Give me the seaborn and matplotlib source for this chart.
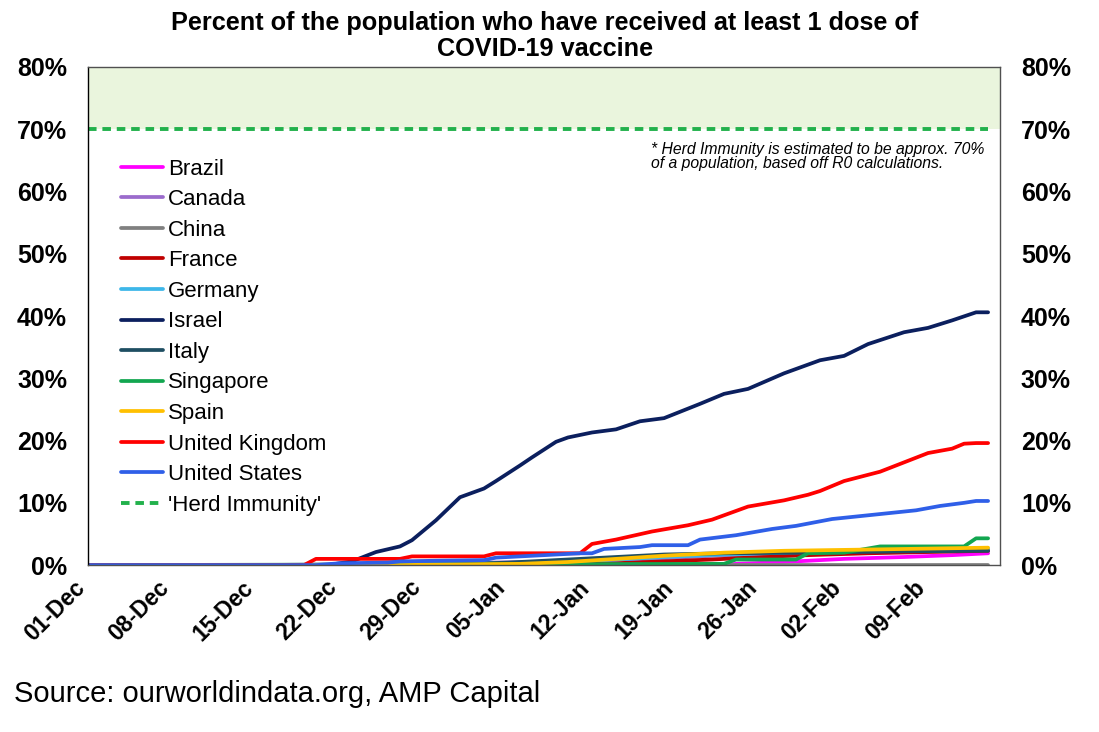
import pandas as pd
import seaborn as sns
import matplotlib
import matplotlib.pyplot as plt
import matplotlib.dates as mdates
import matplotlib.transforms as mtransforms
from matplotlib.ticker import FuncFormatter
from matplotlib.lines import Line2D

matplotlib.use("Agg")

START = pd.Timestamp("2020-12-01")

# (days after 01-Dec-2020, % of population with at least one dose)
brazil = [(0, 0), (53, 0), (54, 0.2), (58, 0.5), (63, 1.0), (68, 1.3), (72, 1.6), (75, 1.9)]
canada = [(0, 0), (14, 0), (20, 0.1), (30, 0.3), (40, 0.6), (47, 1.0), (52, 1.5), (58, 1.8), (65, 2.1), (75, 2.3)]
china = [(0, 0), (75, 0)]
france = [(0, 0), (26, 0), (35, 0.05), (40, 0.1), (44, 0.3), (48, 0.6), (52, 0.9), (56, 1.3), (60, 1.6), (65, 1.9), (75, 2.3)]
germany = [(0, 0), (26, 0), (30, 0.2), (37, 0.4), (44, 0.9), (48, 1.3), (53, 1.7), (60, 2.1), (68, 2.4), (75, 2.6)]
israel = [(0, 0), (20, 0), (22, 0.6), (24, 2.1), (26, 3.0), (27, 4.0), (28, 5.6), (29, 7.2), (31, 10.9),
          (33, 12.3), (34, 13.5), (36, 16.0), (37, 17.3), (39, 19.8), (40, 20.5), (42, 21.3), (44, 21.8),
          (46, 23.1), (48, 23.6), (51, 25.9), (53, 27.5), (55, 28.3), (58, 30.8), (61, 32.9), (63, 33.6),
          (65, 35.5), (68, 37.4), (70, 38.1), (72, 39.3), (74, 40.6), (75, 40.6)]
italy = [(0, 0), (26, 0), (30, 0.1), (35, 0.4), (40, 0.9), (44, 1.3), (48, 1.7), (53, 1.9), (60, 2.0), (68, 2.2), (75, 2.3)]
singapore = [(0, 0), (53, 0.2), (54, 0.9), (59, 0.9), (60, 1.9), (63, 2.0), (66, 3.0), (73, 3.0), (74, 4.3), (75, 4.3)]
spain = [(0, 0), (26, 0), (30, 0.1), (36, 0.2), (40, 0.5), (44, 1.0), (48, 1.5), (53, 2.0), (58, 2.3), (65, 2.5), (75, 2.8)]
uk = [(0, 0), (18, 0), (19, 1.0), (26, 1.0), (27, 1.4), (33, 1.4), (34, 1.9), (41, 1.9), (42, 3.4), (44, 4.1),
      (47, 5.4), (50, 6.4), (52, 7.3), (55, 9.4), (58, 10.4), (60, 11.3), (61, 11.9), (63, 13.5), (66, 15.0),
      (70, 18.0), (72, 18.7), (73, 19.5), (74, 19.6), (75, 19.6)]
us = [(0, 0), (19, 0), (21, 0.3), (25, 0.4), (26, 0.6), (29, 0.7), (33, 0.8), (34, 1.2), (38, 1.6), (41, 1.9),
      (42, 1.9), (43, 2.6), (46, 2.9), (47, 3.2), (50, 3.2), (51, 4.1), (54, 4.8), (57, 5.8), (59, 6.3),
      (62, 7.4), (65, 8.0), (69, 8.8), (71, 9.5), (73, 10.0), (74, 10.3), (75, 10.3)]
herd = [(0, 70), (75, 70)]

countries = ["Brazil", "Canada", "China", "France", "Germany", "Israel", "Italy",
             "Singapore", "Spain", "United Kingdom", "United States"]
series = [brazil, canada, china, france, germany, israel, italy, singapore, spain, uk, us]
colors = ["#FF00FF", "#9B6BCC", "#808080", "#C00000", "#3DB7E9", "#0B1F5E", "#1E4E62",
          "#12A650", "#FFC000", "#FF0000", "#2F5FE8"]
herd_color = "#22B14C"

rows = []
for name, pts in zip(countries, series):
    for d, v in pts:
        rows.append({"country": name, "date": START + pd.Timedelta(days=d), "pct": v})
df = pd.DataFrame(rows)
herd_df = pd.DataFrame({"date": [START + pd.Timedelta(days=d) for d, _ in herd],
                        "pct": [v for _, v in herd]})

sns.set_style("white")
plt.rcParams["font.family"] = ["Liberation Sans", "DejaVu Sans"]
plt.rcParams["text.color"] = "black"
plt.rcParams["xtick.labelcolor"] = "black"
plt.rcParams["ytick.labelcolor"] = "black"

fig = plt.figure(figsize=(10.99, 7.32), dpi=100)
ax = fig.add_axes([0.080, 0.228, 0.830, 0.6805])

ax.axhspan(70, 80, color="#EAF5DD", zorder=0, lw=0)

sns.lineplot(data=herd_df, x="date", y="pct", ax=ax, color=herd_color, lw=2.8,
             linestyle=(0, (2.2, 1.5)), legend=False)
sns.lineplot(data=df, x="date", y="pct", hue="country", hue_order=countries,
             palette=dict(zip(countries, colors)), ax=ax, lw=2.7,
             estimator=None, sort=True, legend=False)

ax.set_xlim(START, START + pd.Timedelta(days=76))
ax.set_ylim(0, 80)
ax.set_xlabel("")
ax.set_ylabel("")

xticks = pd.date_range(START, periods=11, freq="7D")
ax.set_xticks(xticks)
ax.xaxis.set_major_formatter(mdates.DateFormatter("%d-%b"))
ax.set_yticks(range(0, 81, 10))
ax.yaxis.set_major_formatter(FuncFormatter(lambda v, p: f"{v:.0f}%"))

ax.tick_params(axis="y", length=0, pad=15, labelsize=18, labelright=True)
ax.tick_params(axis="x", length=0, pad=10, labelsize=16.5)
for lab in ax.get_yticklabels():
    lab.set_fontweight("bold")
shift = mtransforms.ScaledTranslation(-0.06, -0.05, fig.dpi_scale_trans)
for lab in ax.get_xticklabels():
    lab.set_fontweight("bold")
    lab.set_rotation(45)
    lab.set_ha("right")
    lab.set_va("center")
    lab.set_rotation_mode("anchor")
    lab.set_transform(lab.get_transform() + shift)

ax.spines["left"].set_color("black")
for side in ["top", "right", "bottom"]:
    ax.spines[side].set_color("#505050")
for s in ax.spines.values():
    s.set_linewidth(1.0)

handles = [Line2D([], [], color=c, lw=2.7) for c in colors]
handles.append(Line2D([], [], color=herd_color, lw=2.8, linestyle=(0, (2.2, 1.5))))
labels = countries + ["'Herd Immunity'"]
ax.legend(handles, labels, loc="upper left", bbox_to_anchor=(0.026, 0.834), frameon=False,
          fontsize=16, handlelength=1.9, handletextpad=0.22, labelspacing=0.43, borderaxespad=0)

ax.text(0.617, 0.85, "* Herd Immunity is estimated to be approx. 70%\nof a population, based off R0 calculations.",
        transform=ax.transAxes, ha="left", va="top", fontsize=11.3, style="italic", linespacing=0.95)

fig.suptitle("Percent of the population who have received at least 1 dose of\nCOVID-19 vaccine",
             x=0.496, y=0.985, fontsize=18.2, fontweight="bold", linespacing=1.1)

fig.text(0.013, 0.052, "Source: ourworldindata.org, AMP Capital", fontsize=21, va="center", ha="left")

fig.savefig("out.png", dpi=100)
